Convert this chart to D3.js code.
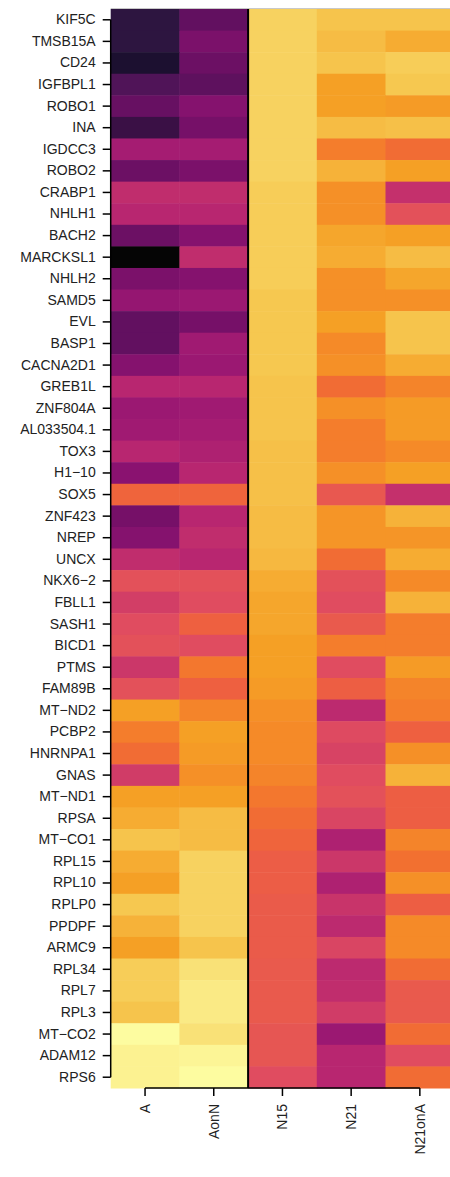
<!DOCTYPE html>
<html>
<head>
<meta charset="utf-8">
<script src="https://cdn.jsdelivr.net/npm/d3@7"></script>
<style>
  html, body { margin: 0; padding: 0; background: #ffffff; }
  svg { display: block; }
  text { font-family: "Liberation Sans", Arial, Helvetica, sans-serif; }
</style>
</head>
<body>
<svg id="chart" width="450" height="1177"></svg>
<script>
// ---------- data ----------
const genes = ["KIF5C","TMSB15A","CD24","IGFBPL1","ROBO1","INA","IGDCC3","ROBO2","CRABP1","NHLH1",
  "BACH2","MARCKSL1","NHLH2","SAMD5","EVL","BASP1","CACNA2D1","GREB1L","ZNF804A","AL033504.1",
  "TOX3","H1\u221210","SOX5","ZNF423","NREP","UNCX","NKX6\u22122","FBLL1","SASH1","BICD1",
  "PTMS","FAM89B","MT\u2212ND2","PCBP2","HNRNPA1","GNAS","MT\u2212ND1","RPSA","MT\u2212CO1","RPL15",
  "RPL10","RPLP0","PPDPF","ARMC9","RPL34","RPL7","RPL3","MT\u2212CO2","ADAM12","RPS6"];

const samples = ["A","AonN","N15","N21","N21onA"];

const valuesA = [0.12,0.12,0.08,0.22,0.28,0.17,0.40,0.29,0.46,0.44,
  0.29,0.00,0.32,0.37,0.27,0.27,0.34,0.44,0.38,0.39,
  0.44,0.35,0.69,0.31,0.34,0.46,0.60,0.52,0.58,0.60,
  0.49,0.60,0.80,0.74,0.71,0.51,0.80,0.82,0.87,0.82,
  0.80,0.88,0.83,0.80,0.89,0.89,0.87,1.00,0.97,0.97];

const valuesAonN = [0.27,0.32,0.29,0.26,0.34,0.31,0.40,0.32,0.46,0.44,
  0.34,0.46,0.34,0.38,0.31,0.39,0.38,0.44,0.39,0.40,
  0.42,0.44,0.69,0.44,0.46,0.44,0.60,0.58,0.68,0.58,
  0.73,0.68,0.75,0.80,0.79,0.77,0.80,0.85,0.85,0.90,
  0.90,0.90,0.90,0.87,0.93,0.95,0.95,0.93,0.98,1.00];

const valuesN15 = [0.90,0.90,0.90,0.90,0.90,0.90,0.90,0.90,0.89,0.89,
  0.89,0.89,0.89,0.88,0.88,0.88,0.88,0.87,0.87,0.87,
  0.86,0.86,0.86,0.85,0.85,0.84,0.82,0.81,0.81,0.80,
  0.80,0.79,0.77,0.76,0.76,0.75,0.73,0.71,0.69,0.66,
  0.66,0.65,0.65,0.65,0.64,0.64,0.64,0.62,0.62,0.58];

const valuesN21 = [0.87,0.85,0.87,0.80,0.80,0.85,0.74,0.83,0.77,0.77,
  0.81,0.82,0.77,0.77,0.80,0.76,0.77,0.71,0.77,0.74,
  0.74,0.77,0.63,0.78,0.78,0.71,0.60,0.58,0.64,0.74,
  0.58,0.67,0.45,0.57,0.54,0.58,0.60,0.55,0.42,0.49,
  0.42,0.48,0.45,0.55,0.45,0.46,0.51,0.38,0.44,0.44];

const valuesN21onA = [0.87,0.82,0.89,0.88,0.79,0.86,0.71,0.80,0.47,0.60,
  0.80,0.85,0.81,0.77,0.87,0.87,0.82,0.75,0.79,0.79,
  0.76,0.80,0.47,0.83,0.78,0.82,0.76,0.83,0.74,0.74,
  0.79,0.75,0.74,0.68,0.77,0.83,0.67,0.67,0.75,0.72,
  0.77,0.67,0.76,0.76,0.71,0.64,0.64,0.71,0.58,0.71];

// colour ramp (value -> colour)
const colorStops = [0.00,0.08,0.12,0.17,0.22,0.27,0.31,0.35,0.39,0.44,0.48,0.52,0.58,0.63,0.68,0.72,0.76,0.80,0.84,0.88,0.92,0.96,1.00];
const colorValues = ["#050505","#1c1030","#2d1540","#3a1045","#501458","#621060","#761068","#8a1270","#a01a72","#b82670",
  "#c8346a","#d23e66","#e04c60","#e85850","#ee6040","#f27030","#f58a28","#f5a025","#f6b840","#f6c850",
  "#f8dc70","#fbee8c","#fdfca0"];

// ---------- build ----------
const seriesValues = [valuesA, valuesAonN, valuesN15, valuesN21, valuesN21onA];
const cells = [];
genes.forEach((g, i) => samples.forEach((s, j) => cells.push({gene: g, sample: s, value: seriesValues[j][i]})));

const mLeft = 110.7, mTop = 9, colW = 68.7, mBottom = 1088;
const svg = d3.select("#chart");

const x = d3.scaleBand().domain(samples).range([mLeft, mLeft + colW * samples.length]).padding(0);
const y = d3.scaleBand().domain(genes).range([mTop, mBottom]).padding(0);
const color = d3.scaleLinear().domain(colorStops).range(colorValues).interpolate(d3.interpolateRgb).clamp(true);

svg.append("g").selectAll("rect").data(cells).join("rect")
  .attr("x", d => x(d.sample))
  .attr("y", d => y(d.gene))
  .attr("width", x.bandwidth() + 0.5)
  .attr("height", y.bandwidth() + 0.5)
  .attr("fill", d => color(d.value));

// top edge line
svg.append("line")
  .attr("x1", mLeft).attr("x2", 450).attr("y1", mTop - 0.5).attr("y2", mTop - 0.5)
  .attr("stroke", "#c8c8c8").attr("stroke-width", 1);

// separator line between AonN and N15
svg.append("line")
  .attr("x1", x("N15")).attr("x2", x("N15"))
  .attr("y1", mTop).attr("y2", mBottom)
  .attr("stroke", "#000").attr("stroke-width", 2);

// y axis
const yAxis = d3.axisLeft(y).tickSize(8).tickPadding(7);
const gy = svg.append("g").attr("transform", `translate(${mLeft},0)`).call(yAxis);
gy.select(".domain").remove();
gy.selectAll(".tick line").attr("stroke", "#000").attr("stroke-width", 1.5);
gy.selectAll(".tick text").attr("font-size", 14).attr("fill", "#222")
  .attr("font-family", "'Liberation Sans', Arial, sans-serif");
gy.append("line")
  .attr("x1", 0).attr("x2", 0)
  .attr("y1", y(genes[0]) + y.bandwidth() / 2)
  .attr("y2", y(genes[genes.length - 1]) + y.bandwidth() / 2)
  .attr("stroke", "#000").attr("stroke-width", 1.5);

// x axis
const xAxis = d3.axisBottom(x).tickSize(8).tickPadding(8);
const gx = svg.append("g").attr("transform", `translate(0,${mBottom})`).call(xAxis);
gx.select(".domain").remove();
gx.selectAll(".tick line").attr("stroke", "#000").attr("stroke-width", 1.5);
gx.selectAll(".tick text")
  .attr("font-size", 14).attr("fill", "#222")
  .attr("font-family", "'Liberation Sans', Arial, sans-serif")
  .attr("transform", "rotate(-90)")
  .attr("text-anchor", "end")
  .attr("x", -16)
  .attr("y", 0)
  .attr("dy", "0.35em");
gx.append("line")
  .attr("x1", x(samples[0]) + x.bandwidth() / 2)
  .attr("x2", x(samples[samples.length - 1]) + x.bandwidth() / 2)
  .attr("y1", 0).attr("y2", 0)
  .attr("stroke", "#000").attr("stroke-width", 1.5);
</script>
</body>
</html>
